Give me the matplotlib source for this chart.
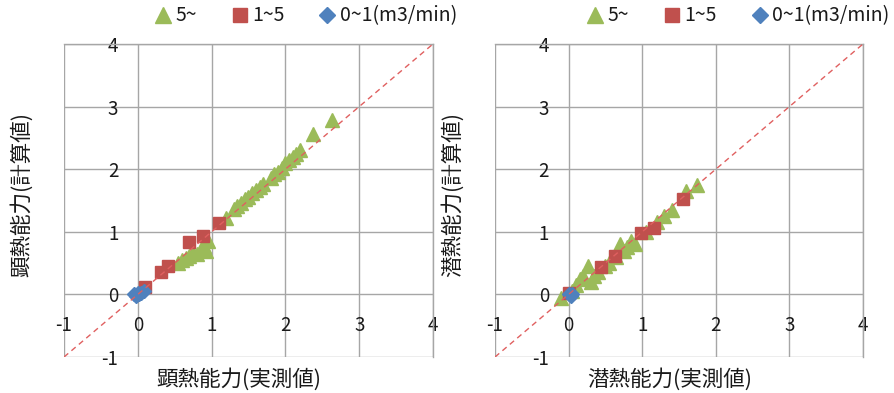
import matplotlib
matplotlib.use("Agg")
import matplotlib.pyplot as plt

plt.rcParams['font.family'] = ['Noto Sans CJK JP', 'DejaVu Sans']
plt.rcParams['axes.unicode_minus'] = False

# Sensible heat capacity: measured (x) vs calculated (y)
sens_over5_x = [0.55, 0.60, 0.65, 0.70, 0.75, 0.80, 0.85, 0.90, 0.92, 0.95,
                1.20, 1.30, 1.35, 1.40, 1.45, 1.50, 1.55, 1.60, 1.65, 1.70,
                1.80, 1.85, 1.90, 1.95, 2.00, 2.05, 2.10, 2.15, 2.20, 2.37, 2.63]
sens_over5_y = [0.50, 0.55, 0.58, 0.62, 0.66, 0.64, 0.72, 0.78, 0.70, 0.86,
                1.22, 1.36, 1.42, 1.46, 1.52, 1.56, 1.62, 1.66, 1.72, 1.76,
                1.86, 1.92, 1.96, 2.02, 2.10, 2.14, 2.20, 2.24, 2.30, 2.57, 2.78]
sens_1to5_x = [0.10, 0.31, 0.41, 0.70, 0.89, 1.10]
sens_1to5_y = [0.12, 0.36, 0.45, 0.84, 0.94, 1.14]
sens_0to1_x = [-0.05, -0.02, 0.00, 0.02, 0.05, 0.08]
sens_0to1_y = [0.00, -0.02, 0.02, 0.00, 0.03, 0.05]

# Latent heat capacity: measured (x) vs calculated (y)
lat_over5_x = [-0.10, 0.05, 0.10, 0.15, 0.20, 0.26, 0.30, 0.35, 0.40, 0.50,
               0.55, 0.65, 0.70, 0.75, 0.80, 0.85, 0.90, 1.05, 1.20, 1.30,
               1.40, 1.60, 1.75]
lat_over5_y = [-0.05, 0.05, 0.15, 0.25, 0.30, 0.45, 0.20, 0.30, 0.35, 0.45,
               0.50, 0.60, 0.80, 0.70, 0.75, 0.85, 0.80, 1.00, 1.15, 1.25,
               1.35, 1.65, 1.75]
lat_1to5_x = [0.00, 0.44, 0.63, 0.99, 1.16, 1.56]
lat_1to5_y = [0.03, 0.43, 0.61, 0.98, 1.06, 1.52]
lat_0to1_x = [0.00, 0.03, 0.05]
lat_0to1_y = [0.00, -0.02, 0.01]

ticks = [-1, 0, 1, 2, 3, 4]
legend_labels = ['5~', '1~5', '0~1(m3/min)']
panels = [
    ('顕熱能力(実測値)', '顕熱能力(計算値)',
     (sens_over5_x, sens_over5_y), (sens_1to5_x, sens_1to5_y), (sens_0to1_x, sens_0to1_y)),
    ('潜熱能力(実測値)', '潜熱能力(計算値)',
     (lat_over5_x, lat_over5_y), (lat_1to5_x, lat_1to5_y), (lat_0to1_x, lat_0to1_y)),
]

green = '#9BBB59'
red = '#C0504D'
blue = '#4F81BD'
grid_c = '#A6A6A6'
text_c = '#1A1A1A'

fig = plt.figure(figsize=(8.94, 3.93), dpi=100)
boxes = [(0.0716, 0.0916, 0.4127, 0.7964), (0.5537, 0.0916, 0.4116, 0.7964)]
legend_x = [0.656, 0.661]

for (xl, yl, g, r, b), box, lx in zip(panels, boxes, legend_x):
    ax = fig.add_axes(box)
    ax.set_xlim(-1, 4)
    ax.set_ylim(-1, 4)
    ax.set_xticks(ticks)
    ax.set_yticks(ticks)
    ax.grid(True, color=grid_c, linewidth=1.0)
    ax.set_axisbelow(True)
    for s in ax.spines.values():
        s.set_color(grid_c)
        s.set_linewidth(1.0)
    ax.spines['left'].set_position(('data', 0))
    ax.spines['bottom'].set_position(('data', 0))
    ax.spines['left'].set_visible(False)
    ax.spines['bottom'].set_visible(False)
    ax.tick_params(length=0, labelsize=13.5, colors=text_c)
    ax.tick_params(axis='y', pad=14)
    ax.tick_params(axis='x', pad=15)

    h1, = ax.plot(g[0], g[1], linestyle='none', marker='^', markersize=10,
                  color=green, zorder=3, label=legend_labels[0])
    h2, = ax.plot(r[0], r[1], linestyle='none', marker='s', markersize=9,
                  color=red, zorder=4, label=legend_labels[1])
    h3, = ax.plot(b[0], b[1], linestyle='none', marker='D', markersize=7,
                  color=blue, zorder=5, label=legend_labels[2])
    ax.plot([-1, 4], [-1, 4], linestyle=(0, (4, 3)), color='#E06060',
            linewidth=1.0, zorder=6)

    ax.text(0.475, -0.073, xl, transform=ax.transAxes, ha='center',
            va='center', fontsize=15.5, color=text_c)
    ax.text(-0.115, 0.52, yl, transform=ax.transAxes, ha='center', va='center',
            rotation=90, fontsize=15.5, color=text_c)

    ax.legend(handles=[h1, h2, h3], loc='center', bbox_to_anchor=(lx, 1.09),
              ncol=3, frameon=False, fontsize=14, handlelength=0.8,
              handletextpad=0.25, columnspacing=1.8, markerscale=1.15,
              borderaxespad=0, labelcolor=text_c)

fig.savefig('out.png', dpi=100)
